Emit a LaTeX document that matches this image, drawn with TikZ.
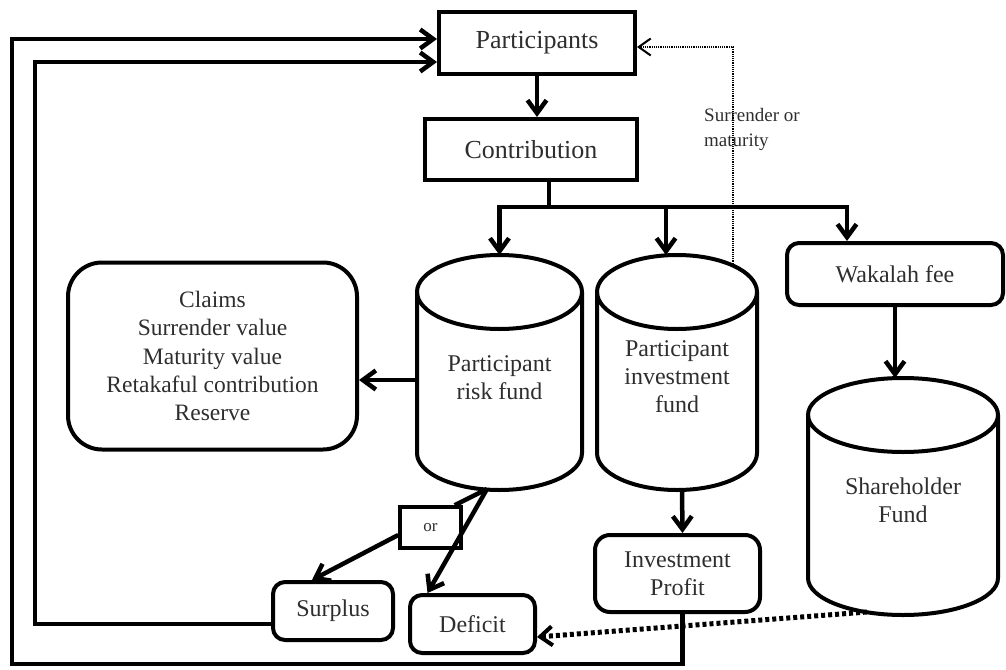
\documentclass[tikz,border=0pt]{standalone}
\usepackage{fontspec}
\setmainfont{Liberation Serif}
\usetikzlibrary{arrows.meta,calc}

% outline of a vertical drum around a named node: #1 node, #2 x radius, #3 y radius
\newcommand\drawdrum[3]{%
  \draw[drumline] ([yshift=-#3pt]#1.north) ellipse [x radius=#2pt, y radius=#3pt];
  \draw[drumline] ([yshift=-#3pt]#1.north west) -- ([yshift=#3pt]#1.south west)
     arc[start angle=180, end angle=360, x radius=#2pt, y radius=#3pt]
     -- ([yshift=-#3pt]#1.north east);
}

\begin{document}
\begin{tikzpicture}[x=1pt, y=-1pt,
  every node/.style={text=black!82},
  box/.style={draw=black, line width=4pt, inner sep=0pt, align=center,
              font=\fontsize{24}{28}\selectfont},
  bigbox/.style={box, font=\fontsize{26}{30}\selectfont},
  rbox/.style={box, rounded corners=12pt},
  fund/.style={inner sep=0pt, outer sep=0pt},
  fundtext/.style={inner sep=0pt, align=center, font=\fontsize{24}{28}\selectfont},
  drumline/.style={draw=black, line width=4pt},
  ln/.style={draw=black, line width=4.5pt},
  arr/.style={ln, -{Straight Barb[length=13pt, width=19pt]}},
  fineflow/.style={draw=black, line width=1.8pt, dash pattern=on 1.2pt off 1pt,
                   -{Straight Barb[length=12pt, width=17pt, line width=2pt, sep=0pt]}},
  heavyflow/.style={draw=black, line width=5pt, dash pattern=on 4pt off 3pt,
                   -{Straight Barb[length=12pt, width=19pt, line width=4pt]}},
]
\useasboundingbox (0,0) rectangle (1006,669);

% boxes
\node[bigbox, minimum width=196pt, minimum height=62pt] (part) at (537,43) {Participants};
\node[bigbox, minimum width=212pt, minimum height=61pt] (contrib) at (531,149.5) {Contribution};
\node[rbox, minimum width=216pt, minimum height=62pt] (wak) at (895,274) {Wakalah fee};
\node[box, rounded corners=34pt, minimum width=289pt, minimum height=187pt,
      font=\fontsize{23.5}{28.3}\selectfont] (claims) at (212.5,356)
  {Claims\\Surrender value\\Maturity value\\Retakaful contribution\\Reserve};
\node[box, line width=3.5pt, minimum width=61pt, minimum height=41pt,
      font=\fontsize{17}{20}\selectfont] (or) at (430.5,527.5) {or};
\node[rbox, minimum width=120pt, minimum height=58pt] (surplus) at (333,611) {Surplus};
\node[rbox, minimum width=125pt, minimum height=58pt] (deficit) at (472.5,624) {Deficit};
\node[rbox, rounded corners=15pt, minimum width=165pt, minimum height=77pt] (profit) at (677.5,573.5)
  {Investment\\Profit};

% funds
\node[fund, minimum width=165pt, minimum height=235pt] (risk) at (499.5,372.5) {};
\node[fund, minimum width=160pt, minimum height=235pt] (inv) at (677,372.5) {};
\node[fund, minimum width=190pt, minimum height=237pt] (share) at (903,496.5) {};
\drawdrum{risk}{82.5}{37}
\drawdrum{inv}{80}{37}
\drawdrum{share}{95}{37}
\node[fundtext] (risktext) at ([yshift=-5pt]risk.center) {Participant\\risk fund};
\node[fundtext] (invtext) at ([yshift=-4pt]inv.center) {Participant\\investment\\fund};
\node[fundtext] (sharetext) at ([yshift=-4pt]share.center) {Shareholder\\Fund};

\node[inner sep=0pt, align=left, anchor=west, font=\fontsize{19}{25}\selectfont] (surr) at (704,129)
  {Surrender or\\maturity};

% helper points
\coordinate (split) at (549,207);
\coordinate (rb) at (487,489);
\coordinate (sv) at (733,266);
\coordinate (sb) at (867,612);
\coordinate (loopin) at (35,62);
\coordinate (loopout) at (12,664);

% main flow
\draw[arr] (part.south) -- (part.south |- contrib.north);
\draw[ln] ([xshift=18pt]contrib.south) -- (split);
\draw[ln, line cap=rect] (risk.north |- split) -- ([xshift=-48pt]wak.north |- split);
\draw[arr] (risk.north |- split) -- (risk.north);
\draw[arr] ([xshift=-11pt]inv.north |- split) -- ([xshift=-11pt]inv.north);
\draw[arr] ([xshift=-48pt]wak.north |- split) -- ([xshift=-48pt]wak.north);
\draw[arr] (wak.south) -- (wak.south |- share.north);
\draw[arr] ([yshift=-7.5pt]risk.west) -- ([yshift=-7.5pt]risk.west -| claims.east);
\draw[arr] ([xshift=5pt]inv.south) -- ([xshift=5pt]profit.north);

% surplus or deficit
\draw[ln] (rb) -- ([xshift=-8pt]or.north east);
\draw[arr] (rb) -- ([xshift=-45pt]deficit.north);
\draw[arr] ([yshift=-7.5pt]or.west) -- ([xshift=-21pt]surplus.north);

% returns to participants
\draw[arr] ([yshift=-13pt]surplus.west) -| (loopin) -- ([yshift=-19pt]part.west);
\draw[arr] ([xshift=5pt]profit.south) |- (loopout) |- ([yshift=4pt]part.west);

% dotted flows
\draw[fineflow] (sv) |- ([yshift=-4pt]part.east);
\draw[heavyflow] (sb) -- ([yshift=-13pt]deficit.east);
\end{tikzpicture}
\end{document}
